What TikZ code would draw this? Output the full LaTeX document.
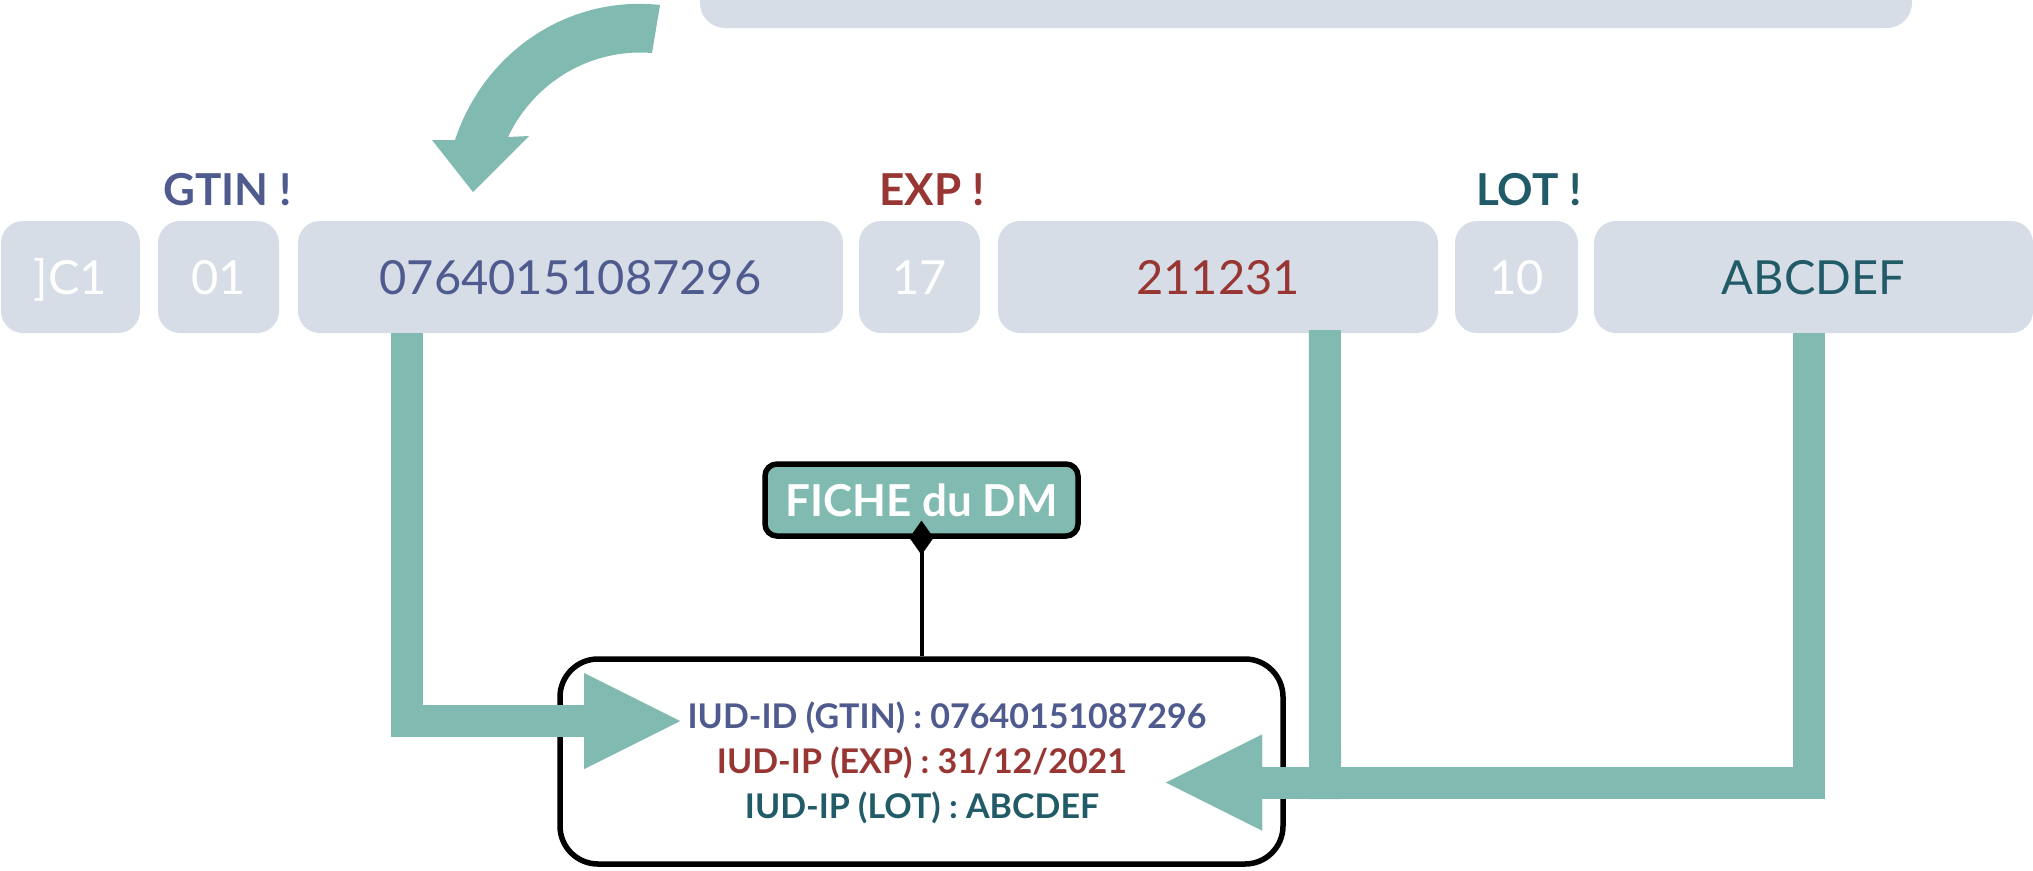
\documentclass[tikz,border=0pt]{standalone}
\usepackage{fontspec}
\setmainfont{Lato}
\usetikzlibrary{arrows.meta,calc}
\definecolor{cTeal}{RGB}{128,186,176}
\definecolor{cGray}{RGB}{214,221,231}
\definecolor{cBlue}{RGB}{79,90,142}
\definecolor{cRed}{RGB}{152,54,52}
\definecolor{cDark}{RGB}{34,91,104}
\tikzset{
  seg/.style={fill=cGray, rounded corners=22pt, minimum height=112pt, inner sep=0pt,
    text height=34pt, text depth=0pt, font=\fontsize{47}{47}\selectfont},
  hdr/.style={font=\bfseries\fontsize{44}{44}\selectfont, anchor=base},
  iudtxt/.style={font=\bfseries\fontsize{34}{34}\selectfont, anchor=base, inner sep=0pt},
  band/.style={draw=cTeal, line width=32pt, line cap=butt, line join=miter},
  bigtip/.style={-{Triangle[length=96pt,width=96pt,line width=0.01pt]}}
}
\begin{document}
\begin{tikzpicture}[x=1pt,y=-1pt]
\useasboundingbox (0,0) rectangle (2033,870);
% top bar
\node[fill=cGray, rounded corners=25pt, minimum width=1212pt, minimum height=88pt, inner sep=0pt] (top) at (1306,-16) {};
% curved arrow
\fill[cTeal] (660,5) .. controls (568,-5) and (484,52) .. (455,140) -- (432,140) -- (473,192)
  -- (529,136) -- (508,137) .. controls (534,82) and (591,48) .. (652,53) -- cycle;
% headers
\node[hdr, text=cBlue] (hg) at (227.5,205) {GTIN !};
\node[hdr, text=cRed] (he) at (932,205) {EXP !};
\node[hdr, text=cDark] (hl) at (1529,205) {LOT !};
% segments
\node[seg, minimum width=139pt, text=white] (c1) at (70.5,277) {]C1};
\node[seg, minimum width=121pt, text=white] (a01) at (218.5,277) {01};
\node[seg, minimum width=545pt, text=cBlue] (gtin) at (570.5,277) {07640151087296};
\node[seg, minimum width=121pt, text=white] (a17) at (919.5,277) {17};
\node[seg, minimum width=440pt, text=cRed] (exp) at (1218,277) {211231};
\node[seg, minimum width=123pt, text=white] (a10) at (1516.5,277) {10};
\node[seg, minimum width=439pt, text=cDark] (lot) at (1813.5,277) {ABCDEF};
% FICHE du DM
\node[fill=cTeal, draw=black, line width=5.5pt, rounded corners=12pt, minimum width=313pt,
  minimum height=72pt, inner sep=0pt, text=white, font=\bfseries\fontsize{44}{44}\selectfont]
  (fiche) at (921.5,500) {FICHE du DM};
% IUD box
\node[fill=white, draw=black, line width=5.5pt, rounded corners=38pt, minimum width=723pt,
  minimum height=205pt, inner sep=0pt] (iud) at (921.5,761.5) {};
\node[iudtxt, text=cBlue] (l1) at (947,728) {IUD-ID (GTIN) : 07640151087296};
\node[iudtxt, text=cRed] (l2) at (922,773) {IUD-IP (EXP) : 31/12/2021};
\node[iudtxt, text=cDark] (l3) at (922,818) {IUD-IP (LOT) : ABCDEF};
% composition link
\draw[line width=4pt, -{Diamond[length=34pt,width=24pt,line width=0.01pt]}]
  (iud.north) -- ($(fiche.south)+(0,-18)$);
% teal connectors
\coordinate (gin) at (680,721);
\coordinate (lin) at (1166,782.5);
\draw[band, bigtip] ($(gtin.south west)+(109.5,0)$) |- (gin);
\draw[band] ($(exp.south west)+(327,-3)$) -- ($(lin)+(159,16.5)$);
\draw[band, bigtip] ($(lot.south west)+(215.5,0)$) |- (lin);
\end{tikzpicture}
\end{document}
